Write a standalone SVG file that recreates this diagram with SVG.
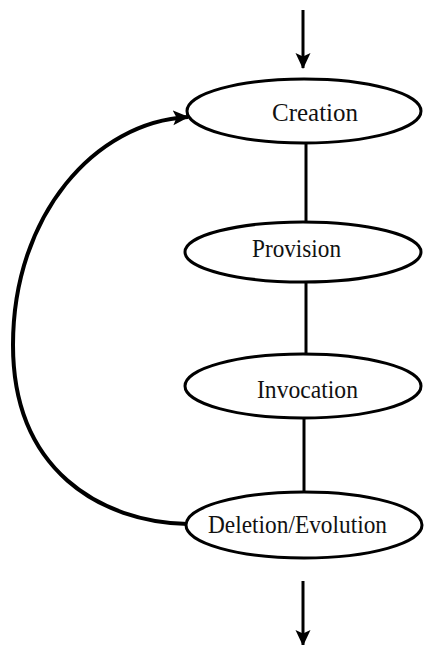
<svg xmlns="http://www.w3.org/2000/svg" width="424" height="645" viewBox="0 0 424 645">
<defs>
<style>
.node ellipse{fill:#fff;stroke:#000;stroke-width:3}
.node text{font-family:"Liberation Serif","Times New Roman",serif;font-size:25px;fill:#111}
.conn{stroke:#000;stroke-width:3;fill:none}
.loop{stroke:#000;stroke-width:4;fill:none}
</style>
<marker id="ah" viewBox="0 0 16 16" refX="15" refY="8" markerWidth="16" markerHeight="16" markerUnits="userSpaceOnUse" orient="auto">
<path d="M0,0.5 L16,8 L0,15.5 L3.5,8 Z" fill="#000"/>
</marker>
</defs>
<rect width="424" height="645" fill="#fff"/>
<g id="connectors">
<line class="conn" x1="303" y1="10" x2="303" y2="68" marker-end="url(#ah)"/>
<line class="conn" x1="306" y1="143" x2="306" y2="222"/>
<line class="conn" x1="306" y1="282" x2="306" y2="354"/>
<line class="conn" x1="304" y1="418" x2="304" y2="492"/>
<line class="conn" x1="303" y1="581" x2="303" y2="645" marker-end="url(#ah)"/>
<path class="loop" d="M188,524 C100,522 13,470 13,345 C13,215 95,122 188,117" marker-end="url(#ah)"/>
</g>
<g id="creation" class="node">
<ellipse cx="304" cy="111" rx="117" ry="32"/>
<text x="272" y="121" textLength="86" lengthAdjust="spacingAndGlyphs">Creation</text>
</g>
<g id="provision" class="node">
<ellipse cx="303" cy="252" rx="118" ry="30"/>
<text x="252" y="257" textLength="89" lengthAdjust="spacingAndGlyphs">Provision</text>
</g>
<g id="invocation" class="node">
<ellipse cx="303" cy="386" rx="118" ry="32"/>
<text x="257" y="398" textLength="101" lengthAdjust="spacingAndGlyphs">Invocation</text>
</g>
<g id="deletion" class="node">
<ellipse cx="304" cy="525" rx="118" ry="33"/>
<text x="208" y="533" textLength="179" lengthAdjust="spacingAndGlyphs">Deletion/Evolution</text>
</g>
</svg>
